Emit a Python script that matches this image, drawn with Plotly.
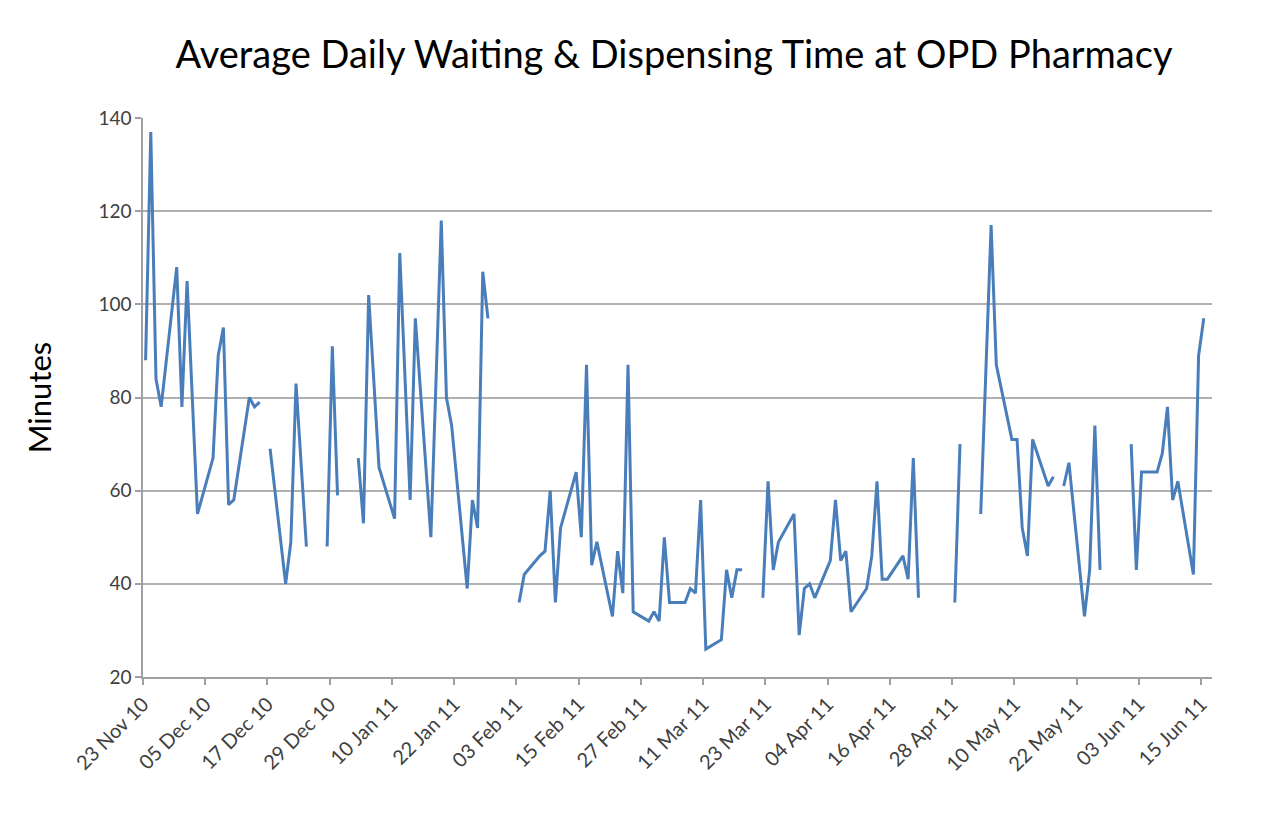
import pandas as pd
import plotly.graph_objects as go

# Weekday dates with recorded average times (None = no data / gap in line)
dates = [
    "2010-11-23", "2010-11-24", "2010-11-25", "2010-11-26", "2010-11-29", "2010-11-30",
    "2010-12-01", "2010-12-03", "2010-12-06", "2010-12-07", "2010-12-08", "2010-12-09",
    "2010-12-10", "2010-12-13", "2010-12-14", "2010-12-15", "2010-12-16", "2010-12-17",
    "2010-12-20", "2010-12-21", "2010-12-22", "2010-12-24", "2010-12-27", "2010-12-28",
    "2010-12-29", "2010-12-30", "2010-12-31", "2011-01-03", "2011-01-04", "2011-01-05",
    "2011-01-07", "2011-01-10", "2011-01-11", "2011-01-13", "2011-01-14", "2011-01-17",
    "2011-01-19", "2011-01-20", "2011-01-21", "2011-01-24", "2011-01-25", "2011-01-26",
    "2011-01-27", "2011-01-28", "2011-01-31", "2011-02-03", "2011-02-04", "2011-02-07",
    "2011-02-08", "2011-02-09", "2011-02-10", "2011-02-11", "2011-02-14", "2011-02-15",
    "2011-02-16", "2011-02-17", "2011-02-18", "2011-02-21", "2011-02-22", "2011-02-23",
    "2011-02-24", "2011-02-25", "2011-02-28", "2011-03-01", "2011-03-02", "2011-03-03",
    "2011-03-04", "2011-03-07", "2011-03-08", "2011-03-09", "2011-03-10", "2011-03-11",
    "2011-03-14", "2011-03-15", "2011-03-16", "2011-03-17", "2011-03-18", "2011-03-21",
    "2011-03-22", "2011-03-23", "2011-03-24", "2011-03-25", "2011-03-28", "2011-03-29",
    "2011-03-30", "2011-03-31", "2011-04-01", "2011-04-04", "2011-04-05", "2011-04-06",
    "2011-04-07", "2011-04-08", "2011-04-11", "2011-04-12", "2011-04-13", "2011-04-14",
    "2011-04-15", "2011-04-18", "2011-04-19", "2011-04-20", "2011-04-21", "2011-04-22",
    "2011-04-28", "2011-04-29", "2011-05-02", "2011-05-03", "2011-05-05", "2011-05-06",
    "2011-05-09", "2011-05-10", "2011-05-11", "2011-05-12", "2011-05-13", "2011-05-16",
    "2011-05-17", "2011-05-18", "2011-05-19", "2011-05-20", "2011-05-23", "2011-05-24",
    "2011-05-25", "2011-05-26", "2011-05-27", "2011-06-01", "2011-06-02", "2011-06-03",
    "2011-06-06", "2011-06-07", "2011-06-08", "2011-06-09", "2011-06-10", "2011-06-13",
    "2011-06-14", "2011-06-15",
]

minutes = [
    88, 137, 84, 78, 108, 78,
    105, 55, 67, 89, 95, 57,
    58, 80, 78, 79, None, 69,
    40, 49, 83, 48, None, 48,
    91, 59, None, 67, 53, 102,
    65, 54, 111, 58, 97, 50,
    118, 80, 74, 39, 58, 52,
    107, 97, None, 36, 42, 46,
    47, 60, 36, 52, 64, 50,
    87, 44, 49, 33, 47, 38,
    87, 34, 32, 34, 32, 50,
    36, 36, 39, 38, 58, 26,
    28, 43, 37, 43, 43, None,
    37, 62, 43, 49, 55, 29,
    39, 40, 37, 45, 58, 45,
    47, 34, 39, 46, 62, 41,
    41, 46, 41, 67, 37, None,
    36, 70, None, 55, 117, 87,
    71, 71, 52, 46, 71, 61,
    63, None, 61, 66, 33, 43,
    74, 43, None, 70, 43, 64,
    64, 68, 78, 58, 62, 42,
    89, 97,
]

title_text = "Average Daily Waiting & Dispensing Time at OPD Pharmacy"
y_title = "Minutes"
y_ticks = [20, 40, 60, 80, 100, 120, 140]

# Excel date axis: each day is a slot, the point sits in the middle of its slot
x = pd.to_datetime(dates) + pd.Timedelta(hours=12)

fig = go.Figure()
fig.add_trace(go.Scatter(
    x=x, y=minutes, mode="lines", connectgaps=False,
    line=dict(color="#4A7EBB", width=3),
    showlegend=False, hoverinfo="x+y",
))

W, H = 1263, 821
# the page body adds an 8 px offset, so margins are reduced accordingly
L, R, T, B = 135, 59, 110, 152

fig.update_layout(
    width=W, height=H,
    margin=dict(l=L, r=R, t=T, b=B, autoexpand=False),
    paper_bgcolor="white", plot_bgcolor="white",
    title=dict(text=title_text, x=666 / W, xanchor="center", y=1 - 47 / H, yanchor="middle",
               font=dict(family="Lato", size=38, color="#000000")),
    font=dict(family="Lato", color="#404040"),
)
fig.update_xaxes(
    type="date",
    range=["2010-11-23", "2011-06-17 02:00"],
    tick0="2010-11-23", dtick=12 * 86400000,
    tickformat="%d %b %y", tickangle=-45,
    tickfont=dict(family="Lato", size=20, color="#404040"),
    showgrid=False, showline=True, linecolor="#A0A0A0", linewidth=1.5,
    ticks="outside", ticklen=6, tickcolor="#A0A0A0", tickwidth=1.5,
    zeroline=False,
)
fig.update_yaxes(
    range=[20, 140], tickvals=y_ticks,
    tickfont=dict(family="Lato", size=19, color="#404040"),
    title=dict(text=y_title, font=dict(family="Lato", size=31, color="#000000"), standoff=38),
    showgrid=True, gridcolor="#B0B0B0", gridwidth=1.5,
    showline=True, linecolor="#A0A0A0", linewidth=1.5,
    ticks="outside", ticklen=6, tickcolor="#A0A0A0", tickwidth=1.5,
    zeroline=False,
)

fig.write_html("out.html")
